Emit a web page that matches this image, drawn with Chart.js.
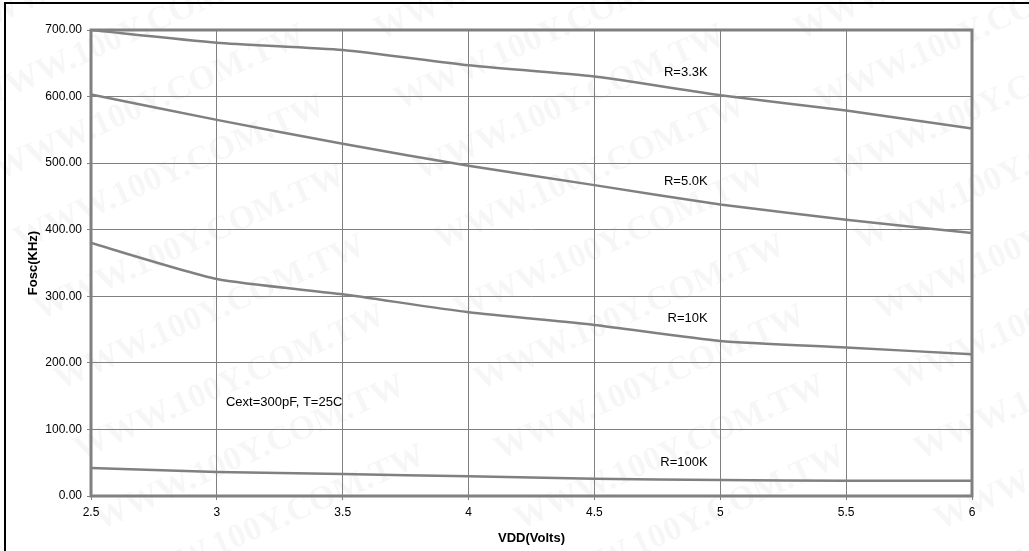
<!DOCTYPE html>
<html>
<head>
<meta charset="utf-8">
<script src="https://cdn.jsdelivr.net/npm/chart.js@4.4.0/dist/chart.umd.min.js"></script>
<style>
  html, body { margin: 0; padding: 0; background: #fff; }
  #wrap { width: 1029px; height: 551px; position: relative; }
</style>
</head>
<body>
<div id="wrap"><canvas id="oscChart" width="1029" height="551"></canvas></div>
<script>
// VDD (Volts)
const vdd = [2.5, 3, 3.5, 4, 4.5, 5, 5.5, 6];
// Fosc (KHz) per weerstand
const r3k3 = [700, 681, 670, 647, 630, 602, 579, 552];
const r5k0 = [603, 565, 529, 496, 467, 438, 415, 395];
const r10k = [380, 326, 303, 276, 257, 233, 223, 213];
const r100k = [42, 36, 33, 29.5, 26, 24, 23, 23];

const seriesNames = ['R=3.3K', 'R=5.0K', 'R=10K', 'R=100K'];
const seriesValues = [r3k3, r5k0, r10k, r100k];

// labels in de grafiek (x, y in datawaarden)
const labelTexts = ['R=3.3K', 'R=5.0K', 'R=10K', 'R=100K', 'Cext=300pF, T=25C'];
const labelX = [4.95, 4.95, 4.95, 4.95, 3.036];
const labelY = [637, 472, 267, 50, 140];
const labelAlign = ['right', 'right', 'right', 'right', 'left'];

const gray = '#808080';

const datasets = seriesValues.map((vals, i) => ({
  label: seriesNames[i],
  data: vals.map((v, j) => ({ x: vdd[j], y: v })),
  borderColor: gray,
  borderWidth: 2.5,
  pointRadius: 0,
  tension: 0.2,
  fill: false
}));

// watermerk + kaders
const framePlugin = {
  id: 'frame',
  beforeDraw(chart) {
    const ctx = chart.ctx;
    ctx.save();
    ctx.fillStyle = '#fff';
    ctx.fillRect(0, 0, chart.width, chart.height);
    ctx.font = 'bold 34px "Liberation Serif", "DejaVu Serif", serif';
    ctx.fillStyle = 'rgba(0,0,0,0.035)';
    for (let row = -2; row < 9; row++) {
      for (let col = 0; col < 4; col++) {
        ctx.save();
        ctx.translate(-40 + col * 420 + row * 20, 40 + row * 70);
        ctx.rotate(-0.42);
        ctx.fillText('WWW.100Y.COM.TW', 0, 0);
        ctx.restore();
      }
    }
    ctx.restore();
  },
  afterDraw(chart) {
    const ctx = chart.ctx;
    const a = chart.chartArea;
    const xs = chart.scales.x;
    const ys = chart.scales.y;
    ctx.save();
    // plotkader
    ctx.strokeStyle = gray;
    ctx.lineWidth = 3;
    ctx.strokeRect(a.left, a.top, a.right - a.left, a.bottom - a.top);
    // buitenkader
    ctx.strokeStyle = '#000';
    ctx.lineWidth = 2;
    ctx.beginPath();
    ctx.moveTo(4, 3);
    ctx.lineTo(chart.width, 3);
    ctx.moveTo(5, 2);
    ctx.lineTo(5, chart.height);
    ctx.stroke();
    // labels
    ctx.fillStyle = '#000';
    ctx.font = '13px "Liberation Sans", Arial, sans-serif';
    ctx.textBaseline = 'middle';
    labelTexts.forEach((t, i) => {
      ctx.textAlign = labelAlign[i];
      ctx.fillText(t, xs.getPixelForValue(labelX[i]), ys.getPixelForValue(labelY[i]));
    });
    ctx.restore();
  }
};

const tickFont = { family: '"Liberation Sans", Arial, sans-serif', size: 12 };
const titleFont = { family: '"Liberation Sans", Arial, sans-serif', size: 13, weight: 'bold' };

new Chart(document.getElementById('oscChart').getContext('2d'), {
  type: 'line',
  data: { datasets },
  plugins: [framePlugin],
  options: {
    responsive: false,
    animation: false,
    layout: { padding: { left: 0, top: 30, right: 57, bottom: 0 } },
    plugins: { legend: { display: false }, tooltip: { enabled: false } },
    scales: {
      x: {
        type: 'linear',
        min: 2.5,
        max: 6,
        ticks: { stepSize: 0.5, color: '#000', font: tickFont, padding: 5, maxRotation: 0,
          callback: v => String(v) },
        grid: { color: gray, lineWidth: 1, tickLength: 4, tickColor: gray },
        border: { display: false },
        title: { display: true, text: 'VDD(Volts)', color: '#000', font: titleFont, padding: { top: 0, bottom: 5 } },
        afterFit(scale) { scale.height = 55; }
      },
      y: {
        min: 0,
        max: 700,
        ticks: { stepSize: 100, color: '#000', font: tickFont, padding: 5,
          callback: v => v.toFixed(2) },
        grid: { color: gray, lineWidth: 1, tickLength: 4, tickColor: gray },
        border: { display: false },
        title: { display: true, text: 'Fosc(KHz)', color: '#000', font: titleFont, padding: { top: 26, bottom: 0 } },
        afterFit(scale) { scale.width = 91; }
      }
    }
  }
});
</script>
</body>
</html>
